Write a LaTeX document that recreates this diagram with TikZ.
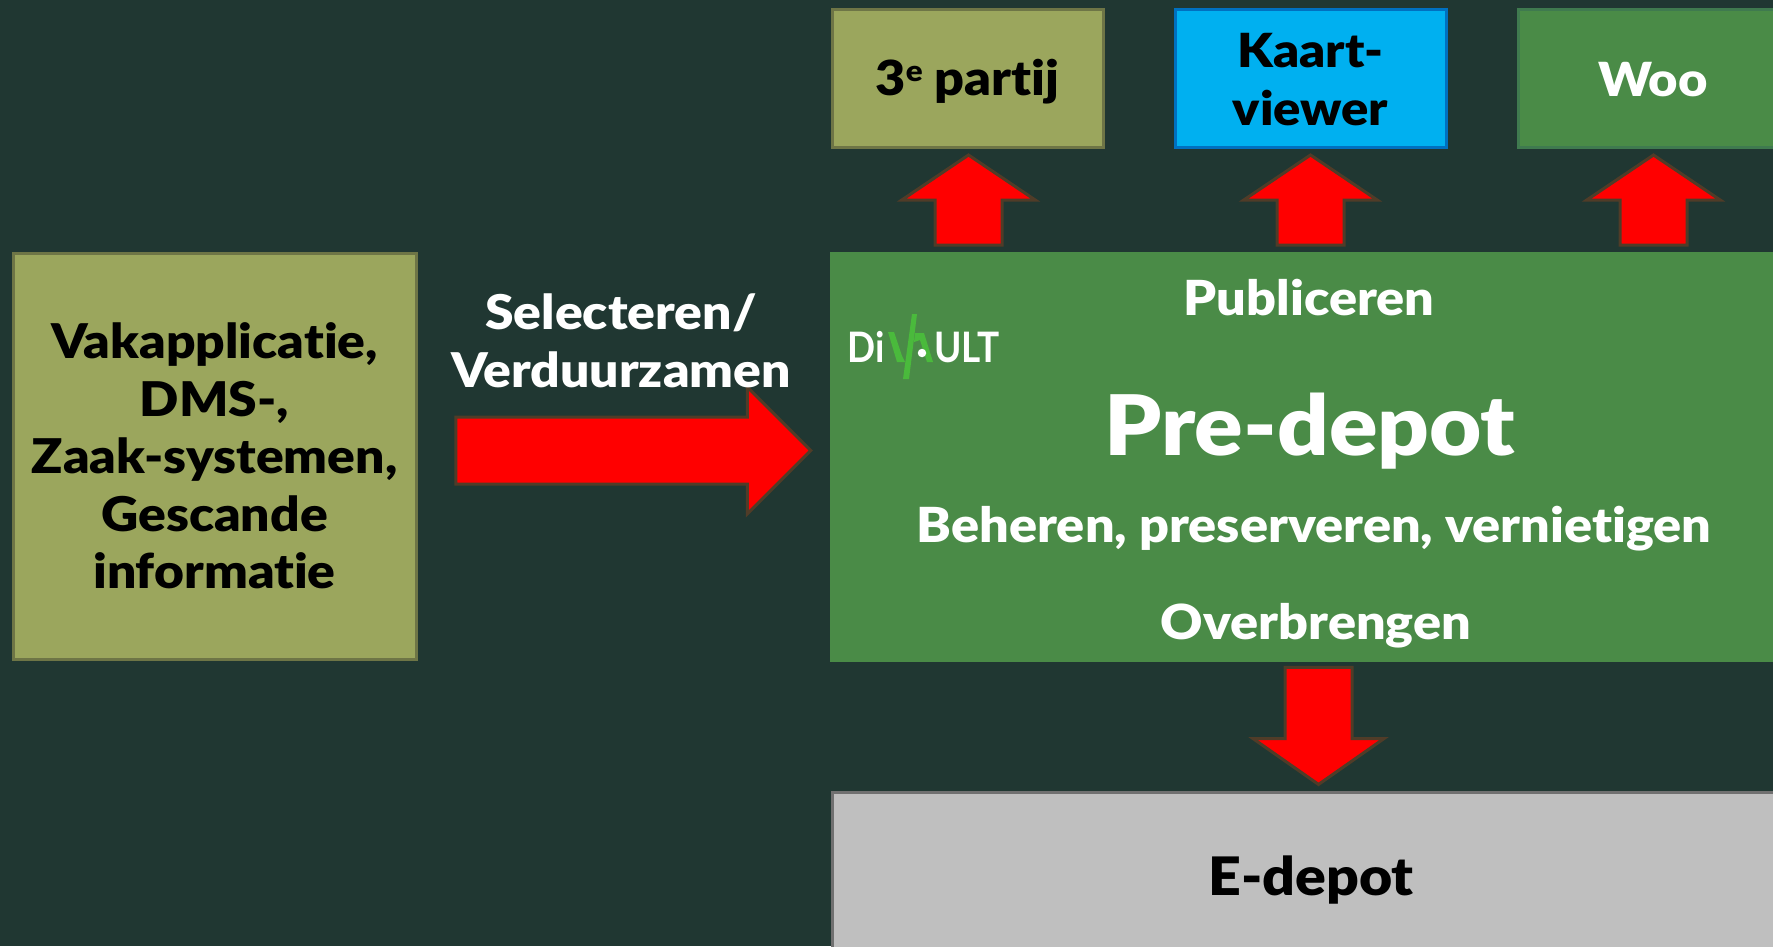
\documentclass[tikz,border=0pt]{standalone}
\usepackage{fontspec}
\setmainfont{Lato}[BoldFont={Lato Black},Ligatures=NoCommon,FakeStretch=1.08]
\newfontfamily\logofont{Lato}[FakeStretch=0.88]
\usetikzlibrary{shapes.arrows}
\definecolor{bgdark}{HTML}{203732}
\definecolor{olive}{HTML}{9BA65D}
\definecolor{oliveline}{HTML}{6E7546}
\definecolor{skyblue}{HTML}{00B0F0}
\definecolor{skyline}{HTML}{0070C0}
\definecolor{depot}{HTML}{4A8B47}
\definecolor{depotline}{HTML}{3F7A4F}
\definecolor{edepot}{HTML}{BFBFBF}
\definecolor{edepotline}{HTML}{707070}
\definecolor{arrowline}{HTML}{503C28}
\definecolor{logogreen}{HTML}{4ABA3C}
\tikzset{
  box/.style={draw,line width=3pt,inner sep=0pt,align=center,font=\bfseries},
  blockarrow/.style={single arrow,draw=arrowline,fill=red,line width=3pt,inner xsep=0pt,inner ysep=32pt},
  uparrow/.style={blockarrow,rotate=90,minimum height=90pt,minimum width=134pt,
    single arrow head extend=33.5pt,single arrow tip angle=112},
  caption/.style={inner sep=0pt,align=center,text=white,font=\fontsize{48.3}{58}\selectfont\bfseries},
  logotext/.style={inner sep=0pt,text=white,font=\fontsize{42}{42}\logofont\bfseries}
}
\begin{document}
\begin{tikzpicture}[x=1pt,y=-1pt]
\useasboundingbox (0,0) rectangle (1773,946);
\clip (0,0) rectangle (1773,946);
\fill[bgdark] (0,0) rectangle (1773,946);
% boxes
    \node[box,draw=oliveline,fill=olive,minimum width=403pt,minimum height=406pt,font=\fontsize{47.8}{57.5}\selectfont\bfseries] (vak) at (214.5,456) {Vakapplicatie,\\DMS-,\\Zaak-systemen,\\Gescande\\informatie};
    \node[box,draw=oliveline,fill=olive,minimum width=271pt,minimum height=138pt,font=\fontsize{48.3}{57}\selectfont\bfseries] (partij) at (967.5,78) {\rule{0pt}{44pt}3\raisebox{.55ex}{\fontsize{29}{29}\selectfont e} partij};
    \node[box,draw=skyline,fill=skyblue,minimum width=271pt,minimum height=138pt,font=\fontsize{47}{58}\selectfont\bfseries] (kaart) at (1310.5,78) {\rule{0pt}{38pt}Kaart-\\viewer};
    \node[box,draw=depotline,fill=depot,text=white,minimum width=270pt,minimum height=138pt,font=\fontsize{47}{57}\selectfont\bfseries] (woo) at (1653,78) {\rule{0pt}{37pt}Woo};
    \node[box,draw=depot,fill=depot,minimum width=958pt,minimum height=407pt] (pre) at (1310,456.5) {};
    \node[box,draw=edepotline,fill=edepot,minimum width=958pt,minimum height=168pt,font=\fontsize{53}{60}\selectfont\bfseries] (edep) at (1311,876) {\rule{0pt}{48pt}E-depot};
% arrows
    \node[uparrow] (up1) at (968.5,211.3) {};
    \node[uparrow] (up2) at (1310.5,211.3) {};
    \node[uparrow] (up3) at (1653.5,211.3) {};
    \node[blockarrow,minimum height=355pt,minimum width=125pt,single arrow head extend=30pt,single arrow tip angle=90] (sel) at (616.5,450.5) {};
    \node[blockarrow,rotate=-90,minimum height=117pt,minimum width=131pt,single arrow head extend=32pt,single arrow tip angle=110] (down) at (1318.5,714.2) {};
% labels
    \node[caption,font=\fontsize{47.8}{58}\selectfont\bfseries] (selv) at (621,341) {Selecteren/\\Verduurzamen};
    \node[caption] (pub) at (1309,297.5) {Publiceren};
    \node[caption,font=\fontsize{83.5}{90}\selectfont\bfseries] (pred) at (1310,431) {Pre-depot};
    \node[caption] (beh) at (1314,529) {Beheren, preserveren, vernietigen};
    \node[caption] (over) at (1316,626) {Overbrengen};
% logo
    \node[logotext,anchor=west] (di) at (847,347) {Di};
    \node[logotext,anchor=east] (ult) at (1000,347) {ULT};
    \fill[logogreen] (912,314) -- (917,314) -- (909,379) -- (903,379) -- cycle;
    \fill[logogreen] (888,332) -- (894,332) -- (902,356) -- (905,362) -- (897,362) -- cycle;
    \fill[logogreen] (915,333) -- (924,333) -- (933,362) -- (927,362) -- (920,340) -- (914,342) -- cycle;
    \node[circle,fill=white,inner sep=3pt] (dot) at (922,353) {};
\end{tikzpicture}
\end{document}
